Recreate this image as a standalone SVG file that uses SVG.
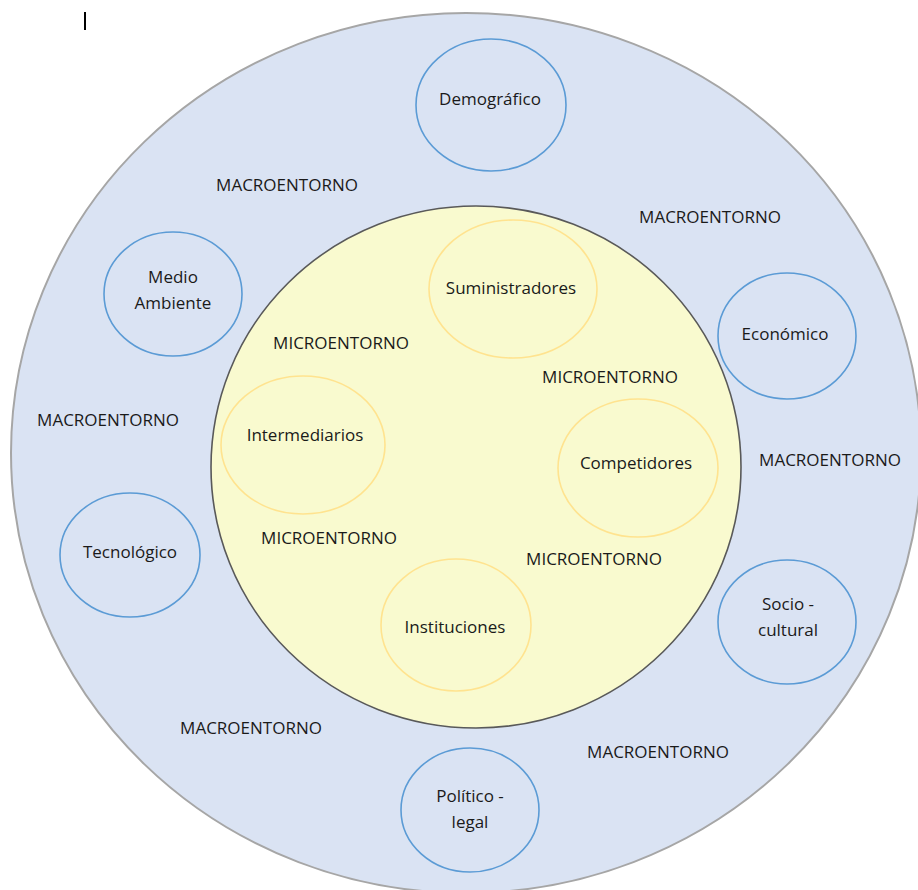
<svg xmlns="http://www.w3.org/2000/svg" width="918" height="890" viewBox="0 0 918 890">
<style>
.t{font-family:"Open Sans","Liberation Sans",Arial,sans-serif;font-size:17px;fill:#1a1a1a;text-anchor:middle;dominant-baseline:central}
.c{font-size:17px}
.macro{fill:none;stroke:#5B9BD5;stroke-width:1.6}
.micro{fill:none;stroke:#FFE38F;stroke-width:1.6}
</style>
<rect width="918" height="890" fill="#ffffff"/>
<line x1="85" y1="12" x2="85" y2="30" stroke="#000" stroke-width="2"/>
<g id="macroentorno">
<ellipse cx="466" cy="453" rx="455" ry="440" fill="#DAE3F3" stroke="#A6A6A6" stroke-width="2"/>
<text class="t c" x="287" y="184">MACROENTORNO</text>
<text class="t c" x="710" y="216">MACROENTORNO</text>
<text class="t c" x="108" y="419">MACROENTORNO</text>
<text class="t c" x="830" y="459">MACROENTORNO</text>
<text class="t c" x="251" y="727">MACROENTORNO</text>
<text class="t c" x="658" y="751">MACROENTORNO</text>
</g>
<g id="microentorno">
<ellipse cx="476" cy="467" rx="265" ry="261" fill="#F9FACF" stroke="#595959" stroke-width="1.6"/>
<text class="t c" x="341" y="342">MICROENTORNO</text>
<text class="t c" x="610" y="376">MICROENTORNO</text>
<text class="t c" x="329" y="537">MICROENTORNO</text>
<text class="t c" x="594" y="558">MICROENTORNO</text>
</g>
<g id="demografico"><ellipse class="macro" cx="491" cy="105" rx="75" ry="66"/><text class="t" x="490" y="98">Demográfico</text></g>
<g id="medio-ambiente"><ellipse class="macro" cx="173" cy="294" rx="69" ry="62"/><text class="t" x="173" y="276">Medio</text><text class="t" x="173" y="302">Ambiente</text></g>
<g id="economico"><ellipse class="macro" cx="787" cy="336" rx="69" ry="63"/><text class="t" x="785" y="333">Económico</text></g>
<g id="tecnologico"><ellipse class="macro" cx="130" cy="555" rx="70" ry="62"/><text class="t" x="130" y="551">Tecnológico</text></g>
<g id="socio-cultural"><ellipse class="macro" cx="787" cy="622" rx="69" ry="62"/><text class="t" x="788" y="603">Socio -</text><text class="t" x="788" y="629">cultural</text></g>
<g id="politico-legal"><ellipse class="macro" cx="470" cy="810" rx="69" ry="62"/><text class="t" x="470" y="795">Político -</text><text class="t" x="470" y="821">legal</text></g>
<g id="suministradores"><ellipse class="micro" cx="513" cy="289" rx="84" ry="69"/><text class="t" x="511" y="287">Suministradores</text></g>
<g id="intermediarios"><ellipse class="micro" cx="303" cy="445" rx="82" ry="69"/><text class="t" x="305" y="434">Intermediarios</text></g>
<g id="competidores"><ellipse class="micro" cx="638" cy="468" rx="80" ry="69"/><text class="t" x="636" y="462">Competidores</text></g>
<g id="instituciones"><ellipse class="micro" cx="456" cy="625" rx="75" ry="66"/><text class="t" x="455" y="626">Instituciones</text></g>
<g id="connectors"/>
</svg>
